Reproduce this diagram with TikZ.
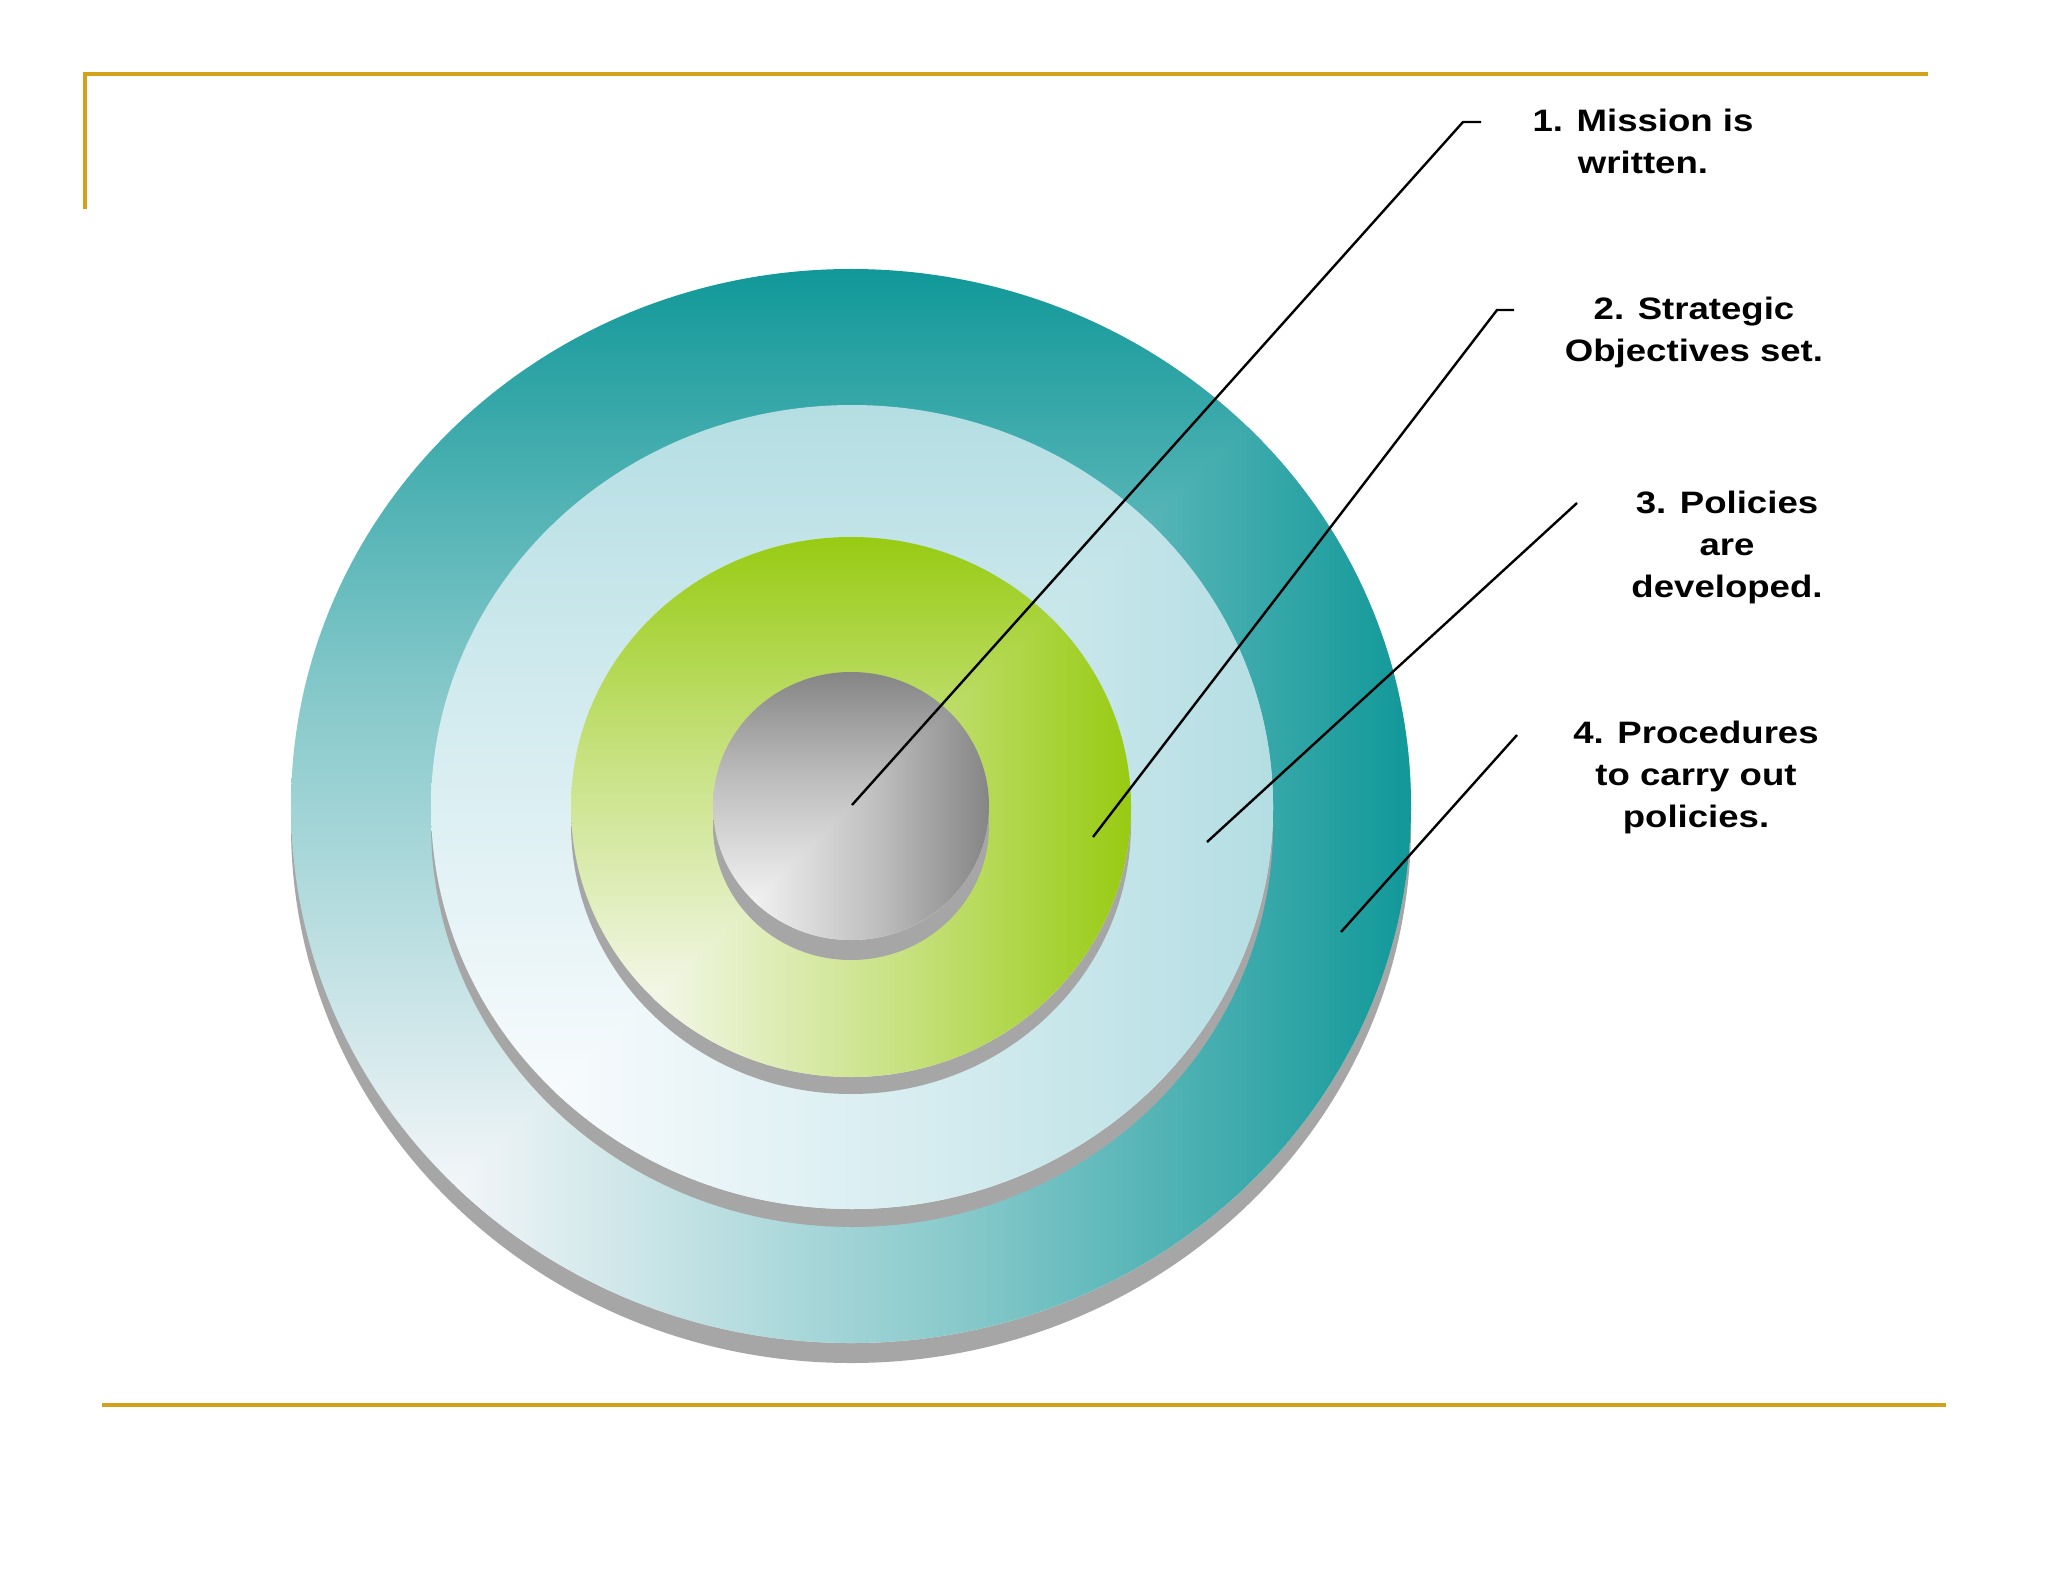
\documentclass[tikz,border=0pt]{standalone}
\usepackage{fontspec}
\setmainfont{Liberation Sans}[FakeStretch=1.18]
\definecolor{gold}{RGB}{212,161,26}
\definecolor{rimgray}{RGB}{166,166,166}
% outer teal disk
\definecolor{tealC}{RGB}{17,152,153}
\definecolor{tealW}{RGB}{244,246,249}
\colorlet{tealM}{tealC!48!tealW}
% light cyan disk
\definecolor{cyanC}{RGB}{180,222,227}
\definecolor{cyanW}{RGB}{248,251,253}
\colorlet{cyanM}{cyanC!52!cyanW}
% green disk
\definecolor{greenC}{RGB}{152,203,18}
\definecolor{greenW}{RGB}{244,247,234}
\colorlet{greenM}{greenC!50!greenW}
% gray disk
\definecolor{grayC}{RGB}{133,133,133}
\definecolor{grayW}{RGB}{246,246,246}
\colorlet{grayM}{grayC!50!grayW}
\pgfdeclareverticalshading{tealV}{100bp}{color(0bp)=(tealW); color(25bp)=(tealW); color(32bp)=(tealW); color(55bp)=(tealM); color(75bp)=(tealC); color(100bp)=(tealC)}
\pgfdeclarehorizontalshading{tealH}{100bp}{color(0bp)=(tealW); color(25bp)=(tealW); color(32bp)=(tealW); color(55bp)=(tealM); color(75bp)=(tealC); color(100bp)=(tealC)}
\pgfdeclareverticalshading{cyanV}{100bp}{color(0bp)=(cyanW); color(25bp)=(cyanW); color(32bp)=(cyanW); color(55bp)=(cyanM); color(75bp)=(cyanC); color(100bp)=(cyanC)}
\pgfdeclarehorizontalshading{cyanH}{100bp}{color(0bp)=(cyanW); color(25bp)=(cyanW); color(32bp)=(cyanW); color(55bp)=(cyanM); color(75bp)=(cyanC); color(100bp)=(cyanC)}
\pgfdeclareverticalshading{greenV}{100bp}{color(0bp)=(greenW); color(25bp)=(greenW); color(32bp)=(greenW); color(55bp)=(greenM); color(75bp)=(greenC); color(100bp)=(greenC)}
\pgfdeclarehorizontalshading{greenH}{100bp}{color(0bp)=(greenW); color(25bp)=(greenW); color(32bp)=(greenW); color(55bp)=(greenM); color(75bp)=(greenC); color(100bp)=(greenC)}
\pgfdeclareverticalshading{grayV}{100bp}{color(0bp)=(grayW); color(25bp)=(grayW); color(30bp)=(grayW); color(55bp)=(grayM); color(75bp)=(grayC); color(100bp)=(grayC)}
\pgfdeclarehorizontalshading{grayH}{100bp}{color(0bp)=(grayW); color(25bp)=(grayW); color(30bp)=(grayW); color(55bp)=(grayM); color(75bp)=(grayC); color(100bp)=(grayC)}
% #1 cx, #2 cy, #3 rx, #4 ry, #5 rim offset, #6 name prefix
\newcommand\drawdisk[6]{%
  \fill[rimgray] (#1,#2+#5) ellipse [x radius=#3, y radius=#4];
  \begin{scope}
    \clip (#1,#2) ellipse [x radius=#3, y radius=#4];
    \shade[shading=#6V] (#1-#3,#2-#4) rectangle (#1+#3,#2+#4);
    \begin{scope}
      \clip (#1-#3,#2+#4) -- (#1+#3,#2+#4) -- (#1+#3,#2-#4) -- cycle;
      \shade[shading=#6H] (#1-#3,#2-#4) rectangle (#1+#3,#2+#4);
    \end{scope}
  \end{scope}}
\begin{document}
\begin{tikzpicture}[x=0.5pt,y=-0.5pt,
  rule/.style={draw=gold,line width=2pt},
  leader/.style={draw=black,line width=1.2pt},
  lbl/.style={align=center,font=\bfseries\fontsize{15.5}{21}\selectfont,inner sep=0pt}]
\fill[white] (0,0) rectangle (2048,1582);
\useasboundingbox (0,0) rectangle (2048,1582);
% frame rules
\coordinate (t0) at (85,209);
\coordinate (t1) at (85,74);
\coordinate (t2) at (1928,74);
\coordinate (b1) at (102,1405);
\coordinate (b2) at (1946,1405);
\draw[rule] (t0) -- (t1) -- (t2);
\draw[rule] (b1) -- (b2);
% disks
\drawdisk{851}{806}{560}{537}{20}{teal}
\drawdisk{852}{807}{421}{402}{18}{cyan}
\drawdisk{851}{807}{280}{270}{17}{green}
\drawdisk{851}{806}{138}{134}{20}{gray}
% labels
\node[lbl] (l1) at (1643,141) {1. Mission is\\written.};
\node[lbl] (l2) at (1694,332) {2. Strategic\\Objectives set.};
\node[lbl] (l3) at (1727,547) {3. Policies\\are\\developed.};
\node[lbl] (l4) at (1696,777) {4. Procedures\\to carry out\\policies.};
% leader lines
\coordinate (s1) at (852,805);
\coordinate (k1) at (1463,122);
\coordinate (e1) at (1481,122);
\coordinate (s2) at (1093,837);
\coordinate (k2) at (1497,310);
\coordinate (e2) at (1514,310);
\coordinate (s3) at (1207,842);
\coordinate (e3) at (1577,503);
\coordinate (s4) at (1341,932);
\coordinate (e4) at (1517,735);
\draw[leader] (s1) -- (k1) -- (e1);
\draw[leader] (s2) -- (k2) -- (e2);
\draw[leader] (s3) -- (e3);
\draw[leader] (s4) -- (e4);
\end{tikzpicture}
\end{document}
